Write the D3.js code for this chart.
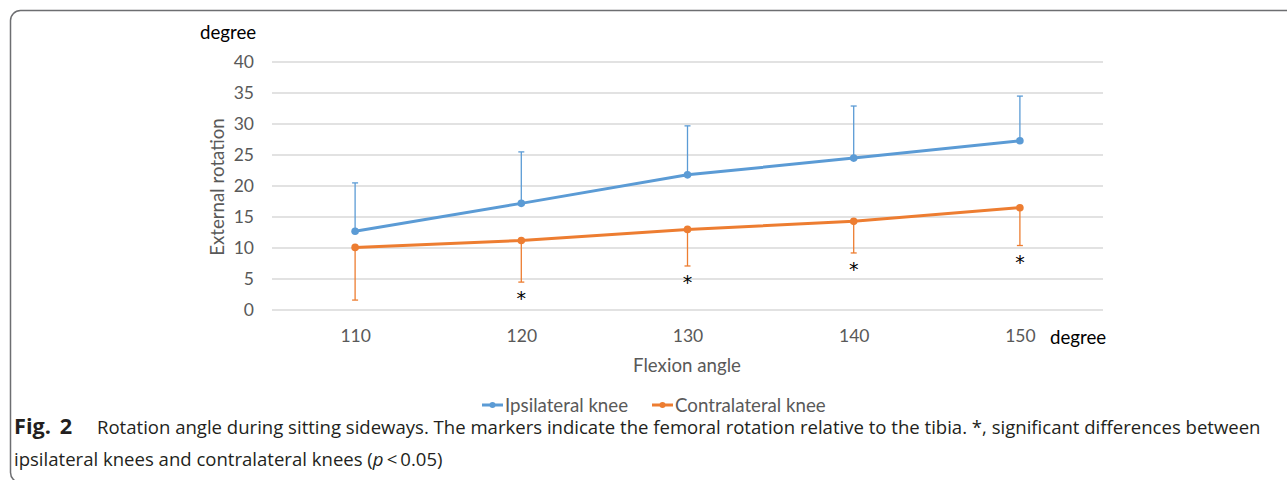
<!DOCTYPE html>
<html>
<head>
<meta charset="utf-8">
<script src="https://cdn.jsdelivr.net/npm/d3@7"></script>
<style>
  body { margin: 0; background: #fff; }
  svg { display: block; }
  .tick text { font-family: Lato, sans-serif; font-size: 17.5px; fill: #595959; }
  .label { font-family: Lato, sans-serif; font-size: 18.7px; fill: #595959; }
  .unit { font-family: Lato, sans-serif; font-size: 18.7px; fill: #000; }
  .caption { font-family: "Open Sans", sans-serif; font-size: 18px; fill: #231f20; }
</style>
</head>
<body>
<svg id="chart" width="1287" height="480"></svg>
<script>
// flexion angles (degree)
const angles = [110, 120, 130, 140, 150];
// mean external rotation and SD
const ipsiMean = [12.7, 17.2, 21.8, 24.5, 27.3];
const ipsiSD = [7.8, 8.3, 7.9, 8.4, 7.2];
const contraMean = [10.1, 11.2, 13.0, 14.3, 16.5];
const contraSD = [8.5, 6.7, 5.9, 5.1, 6.1];
// angles with significant differences
const signif = [120, 130, 140, 150];
const yTicks = [0, 5, 10, 15, 20, 25, 30, 35, 40];

const series = [
    {name: "Ipsilateral knee", color: "#5B9BD5", mean: ipsiMean, sd: ipsiSD, dir: 1},
    {name: "Contralateral knee", color: "#ED7D31", mean: contraMean, sd: contraSD, dir: -1}
];

const svg = d3.select("#chart");

// frame round the figure
svg.append("rect")
    .attr("x", 10.5).attr("y", 10.5)
    .attr("width", 1320).attr("height", 472)
    .attr("rx", 10)
    .attr("fill", "none")
    .attr("stroke", "#6d6e71")
    .attr("stroke-width", 1.5);

const plotLeft = 272, plotRight = 1103, plotTop = 62, plotBottom = 310;

const x = d3.scalePoint()
    .domain(angles)
    .range([plotLeft, plotRight])
    .padding(0.5);

const y = d3.scaleLinear()
    .domain([0, 40])
    .range([plotBottom, plotTop]);

// grid
svg.append("g")
    .selectAll("line")
    .data(yTicks)
    .join("line")
    .attr("x1", plotLeft).attr("x2", plotRight)
    .attr("y1", d => y(d)).attr("y2", d => y(d))
    .attr("stroke", "#d9d9d9")
    .attr("stroke-width", 1.3);

const yAxis = d3.axisLeft(y).tickValues(yTicks).tickSize(0).tickPadding(18);
svg.append("g")
    .attr("transform", `translate(${plotLeft}, 0)`)
    .call(yAxis)
    .call(g => g.select(".domain").remove());

const xAxis = d3.axisBottom(x).tickSize(0).tickPadding(20);
svg.append("g")
    .attr("transform", `translate(0, ${plotBottom})`)
    .call(xAxis)
    .call(g => g.select(".domain").remove());

// error bars
series.forEach(s => {
    const g = svg.append("g");
    angles.forEach((a, i) => {
        const end = s.mean[i] + s.dir * s.sd[i];
        g.append("line")
            .attr("x1", x(a)).attr("x2", x(a))
            .attr("y1", y(s.mean[i])).attr("y2", y(end))
            .attr("stroke", s.color).attr("stroke-width", 1.3);
        g.append("line")
            .attr("x1", x(a) - 3).attr("x2", x(a) + 3)
            .attr("y1", y(end)).attr("y2", y(end))
            .attr("stroke", s.color).attr("stroke-width", 1.3);
    });
});

// lines and markers
const line = d3.line()
    .x((d, i) => x(angles[i]))
    .y(d => y(d));

series.forEach(s => {
    svg.append("path")
        .attr("d", line(s.mean))
        .attr("fill", "none")
        .attr("stroke", s.color)
        .attr("stroke-width", 3);
    svg.append("g")
        .selectAll("circle")
        .data(s.mean)
        .join("circle")
        .attr("cx", (d, i) => x(angles[i]))
        .attr("cy", d => y(d))
        .attr("r", 3.8)
        .attr("fill", s.color);
});

// asterisks under the contralateral error bars
svg.append("g")
    .selectAll("text")
    .data(signif)
    .join("text")
    .attr("x", a => x(a))
    .attr("y", a => {
        const i = angles.indexOf(a);
        return y(contraMean[i] - contraSD[i]) + 23;
    })
    .attr("text-anchor", "middle")
    .attr("font-family", "DejaVu Sans, sans-serif")
    .attr("font-size", 19)
    .attr("fill", "#000")
    .text("*");

// axis titles
svg.append("text")
    .attr("class", "unit")
    .attr("x", 200).attr("y", 39)
    .text("degree");

svg.append("text")
    .attr("class", "unit")
    .attr("x", 1050).attr("y", 344)
    .text("degree");

svg.append("text")
    .attr("class", "label")
    .attr("x", 687).attr("y", 372)
    .attr("text-anchor", "middle")
    .text("Flexion angle");

svg.append("text")
    .attr("class", "label")
    .attr("transform", "translate(224, 187) rotate(-90)")
    .attr("text-anchor", "middle")
    .text("External rotation");

// legend
const legendX = [482, 652];
const legend = svg.append("g")
    .selectAll("g")
    .data(series)
    .join("g")
    .attr("transform", (d, i) => `translate(${legendX[i]}, 405)`);

legend.append("line")
    .attr("x1", 0).attr("x2", 21)
    .attr("stroke", d => d.color)
    .attr("stroke-width", 3);

legend.append("circle")
    .attr("cx", 10.5)
    .attr("r", 3)
    .attr("fill", d => d.color);

legend.append("text")
    .attr("class", "label")
    .attr("x", 23).attr("y", 6.5)
    .text(d => d.name);

// caption: glyphs squeezed so the first line fills its width
const cap = svg.append("g").attr("class", "caption");

const l1 = cap.append("g");
const t1 = l1.append("text").attr("y", 434)
    .text("Rotation angle during sitting sideways. The markers indicate the femoral rotation relative to the tibia. *, significant differences between");
const sx = 1165 / t1.node().getComputedTextLength();
l1.attr("transform", `translate(97, 0) scale(${sx}, 1)`);

const fig = cap.append("g").attr("transform", `translate(14, 0) scale(${sx}, 1)`);
fig.append("text").attr("y", 434)
    .attr("font-weight", "bold")
    .attr("font-size", 21)
    .attr("word-spacing", 3)
    .text("Fig. 2");

const l2 = cap.append("g").attr("transform", `translate(14, 0) scale(${sx}, 1)`);
const t2 = l2.append("text").attr("y", 466);
t2.append("tspan").text("ipsilateral knees and contralateral knees (");
t2.append("tspan").attr("font-style", "italic").text("p");
t2.append("tspan").text("\u2009<\u20090.05)");
</script>
</body>
</html>
